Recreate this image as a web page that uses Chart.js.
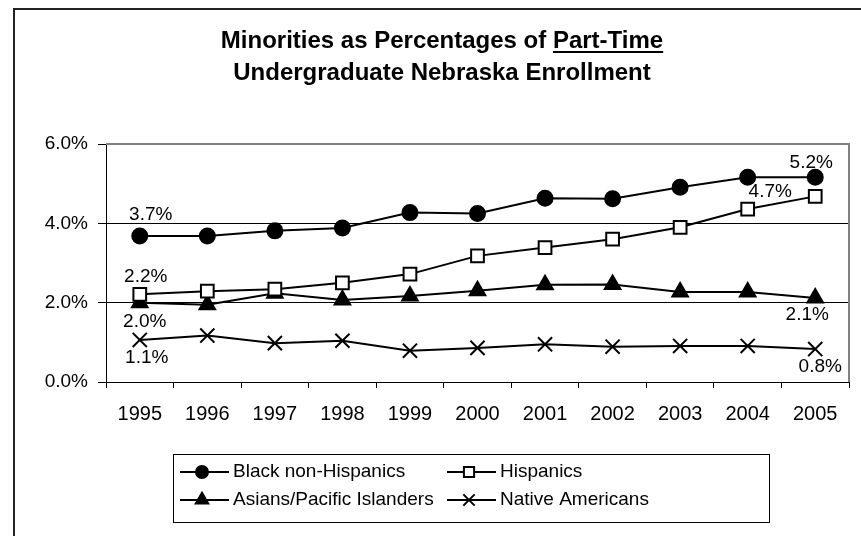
<!DOCTYPE html>
<html>
<head>
<meta charset="utf-8">
<script src="https://cdn.jsdelivr.net/npm/chart.js@4/dist/chart.umd.min.js"></script>
<style>
  body { margin: 0; background: #fff; }
  canvas { display: block; }
</style>
</head>
<body>
<canvas id="chart" width="861" height="536"></canvas>
<script>
const years = ['1995', '1996', '1997', '1998', '1999', '2000', '2001', '2002', '2003', '2004', '2005'];
const blackNonHispanics = [3.68, 3.68, 3.81, 3.88, 4.27, 4.25, 4.63, 4.62, 4.91, 5.16, 5.16];
const hispanics = [2.21, 2.29, 2.34, 2.50, 2.72, 3.18, 3.39, 3.60, 3.90, 4.36, 4.68];
const asiansPacific = [2.00, 1.95, 2.24, 2.07, 2.17, 2.30, 2.45, 2.46, 2.27, 2.27, 2.12];
const nativeAmericans = [1.06, 1.17, 0.98, 1.04, 0.79, 0.86, 0.95, 0.89, 0.91, 0.91, 0.83];
const yTicks = [0, 2, 4, 6];
const titleLine1 = 'Minorities as Percentages of ';
const titleUnderlined = 'Part-Time';
const titleLine2 = 'Undergraduate Nebraska Enrollment';

const FONT = '"Liberation Sans", Arial, sans-serif';

// value labels at first and last points: [dataset, index, dx, dy]
const pointLabels = [
  [0, 0, 11, -21], [1, 0, 6, -18], [2, 0, 5, 19], [3, 0, 7, 18],
  [0, 10, -4, -15], [1, 10, -45, -5], [2, 10, -8, 17], [3, 10, 5, 18]
];

const frame = {
  id: 'frame',
  beforeDraw(chart) {
    const c = chart.ctx;
    c.save();
    c.fillStyle = '#fff';
    c.fillRect(0, 0, chart.width, chart.height);
    c.strokeStyle = '#222';
    c.lineWidth = 2;
    c.strokeRect(14, 9, 1000, 1000);
    c.restore();
  },
  beforeDatasetsDraw(chart) {
    const a = chart.chartArea, c = chart.ctx;
    c.save();
    c.strokeStyle = '#808080';
    c.lineWidth = 2;
    c.beginPath();
    c.moveTo(a.left, a.top);
    c.lineTo(a.right, a.top);
    c.lineTo(a.right, a.bottom);
    c.stroke();
    c.restore();
  },
  afterDraw(chart) {
    const c = chart.ctx;
    c.save();
    // title
    c.fillStyle = '#000';
    c.font = 'bold 24px ' + FONT;
    c.textBaseline = 'middle';
    c.textAlign = 'left';
    const cx = 442;
    const w1 = c.measureText(titleLine1).width, w2 = c.measureText(titleUnderlined).width;
    let x = cx - (w1 + w2) / 2;
    c.fillText(titleLine1, x, 41);
    c.fillText(titleUnderlined, x + w1, 41);
    c.fillRect(x + w1, 51, w2, 2);
    c.textAlign = 'center';
    c.fillText(titleLine2, cx, 73);

    // value labels
    c.font = '19px ' + FONT;
    c.textAlign = 'center';
    pointLabels.forEach(([d, i, dx, dy]) => {
      const p = chart.getDatasetMeta(d).data[i];
      const v = chart.data.datasets[d].data[i];
      c.fillText(v.toFixed(1) + '%', p.x + dx, p.y + dy);
    });

    // legend
    c.strokeStyle = '#000';
    c.lineWidth = 1;
    c.strokeRect(173.5, 454.5, 596, 68);
    const items = [[0, 180, 472], [1, 447, 472], [2, 180, 500], [3, 447, 500]];
    c.textAlign = 'left';
    items.forEach(([d, lx, ly]) => {
      const ds = chart.data.datasets[d];
      c.strokeStyle = '#000';
      c.lineWidth = 2;
      c.beginPath();
      c.moveTo(lx, ly);
      c.lineTo(lx + 49, ly);
      c.stroke();
      c.fillStyle = ds.pointBackgroundColor;
      Chart.helpers.drawPoint(c, {
        pointStyle: ds.pointStyle, radius: ds.pointRadius * 0.8, borderWidth: 2, rotation: 0
      }, lx + 22, ly);
      c.fillStyle = '#000';
      c.fillText(ds.label, lx + 53, ly);
    });
    c.restore();
  }
};

function series(label, data, style, fill, radius) {
  return {
    label, data,
    borderColor: '#000', borderWidth: 2,
    pointStyle: style, pointRadius: radius, pointHoverRadius: radius,
    pointBackgroundColor: fill, pointBorderColor: '#000', pointBorderWidth: 2,
    tension: 0
  };
}

const chart = new Chart(document.getElementById('chart'), {
  type: 'line',
  data: {
    labels: years,
    datasets: [
      series('Black non-Hispanics', blackNonHispanics, 'circle', '#000', 7.5),
      series('Hispanics', hispanics, 'rect', '#fff', 9),
      series('Asians/Pacific Islanders', asiansPacific, 'triangle', '#000', 9),
      series('Native Americans', nativeAmericans, 'crossRot', '#000', 10)
    ]
  },
  options: {
    responsive: false,
    animation: false,
    layout: { padding: { left: 14, right: 5, top: 144, bottom: 104 } },
    plugins: { legend: { display: false }, title: { display: false }, tooltip: { enabled: false } },
    scales: {
      x: {
        offset: true,
        afterFit: s => { s.height = 50; },
        grid: { offset: true, drawOnChartArea: false, tickLength: 6, tickColor: '#000', tickWidth: 1 },
        border: { color: '#000', width: 1 },
        ticks: { color: '#000', font: { family: FONT, size: 20 }, padding: 14, maxRotation: 0 }
      },
      y: {
        min: 0, max: 6,
        afterFit: s => { s.width = 92; },
        afterBuildTicks: s => { s.ticks = yTicks.map(v => ({ value: v })); },
        grid: {
          color: ctx => (ctx.tick && (ctx.tick.value === 0 || ctx.tick.value === 6)) ? 'rgba(0,0,0,0)' : '#000',
          lineWidth: 1, tickLength: 8, tickColor: '#000'
        },
        border: { color: '#000', width: 1 },
        ticks: { color: '#000', font: { family: FONT, size: 19 }, padding: 10, callback: v => v.toFixed(1) + '%' }
      }
    }
  },
  plugins: [frame]
});
</script>
</body>
</html>
